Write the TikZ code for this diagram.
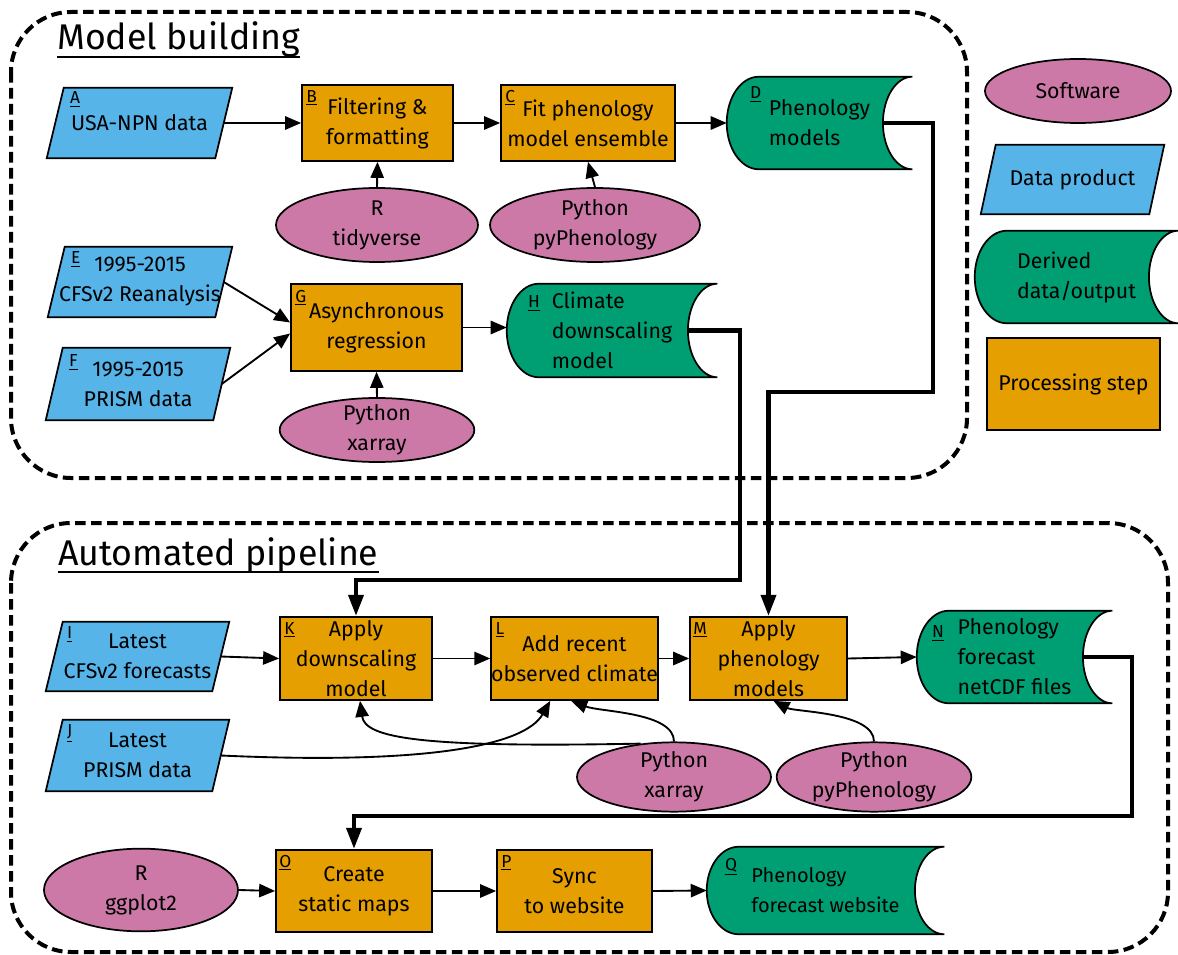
\documentclass[tikz,border=0pt]{standalone}
\usepackage{fontspec}
\setmainfont{Fira Sans}
\usetikzlibrary{shapes.geometric, arrows.meta, calc, backgrounds}
\definecolor{cblue}{HTML}{56B4E9}
\definecolor{corange}{HTML}{E69F00}
\definecolor{cgreen}{HTML}{009E73}
\definecolor{cpink}{HTML}{CC79A7}
\tikzset{
  base/.style={inner sep=0pt, align=center, font=\fontsize{16}{22.5}\selectfont},
  corners/.style n args={4}{at={({(#1+#3)/2},{(#2+#4)/2})}, minimum width={(#3-#1)*0.75pt}, minimum height={(#4-#2)*0.75pt}},
  proc/.style={base, draw, fill=corange, line width=1.3pt},
  soft/.style={base, ellipse, draw, fill=cpink, line width=1.3pt, inner ysep=-12pt},
  databox/.style={base},
  drvbox/.style={base, align=left},
  lbl/.style={inner sep=0pt, anchor=north west, font=\fontsize{13}{13}\selectfont},
  conn/.style={line width=1.4pt, -{Triangle[length=12pt,width=10pt]}},
  flow/.style={line width=3.5pt, -{Triangle[length=16pt,width=11pt]}},
  group/.style={line width=3pt, dash pattern=on 8pt off 4pt, rounded corners=45pt},
  paraf/.style={draw, fill=cblue, line width=1.3pt},
  drvf/.style={draw, fill=cgreen, line width=1.3pt},
  grouptitle/.style={inner sep=0pt, anchor=base west, font=\fontsize{26.8}{27}\selectfont},
}
\newcommand\paraShape[2]{%
  \draw[paraf] ($(#1.north west)+(#2,0)$) -- (#1.north east) -- ($(#1.south east)+(-#2,0)$) -- (#1.south west) -- cycle;}
\newcommand\drvShape[1]{%
  \draw[drvf] let \p1=(#1.north west), \p2=(#1.south east), \n1={(\y1-\y2)/2} in
   ({\x1+24pt},\y1) -- (\x2,\y1)
   .. controls ({\x2-12pt},\y1) and ({\x2-22pt},{\y1-0.448*\n1}) .. ({\x2-22pt},{\y1-\n1})
   .. controls ({\x2-22pt},{\y2+0.448*\n1}) and ({\x2-12pt},\y2) .. (\x2,\y2)
   -- ({\x1+24pt},\y2)
   .. controls ({\x1+10.75pt},\y2) and (\x1,{\y2+0.448*\n1}) .. (\x1,{\y2+\n1})
   .. controls (\x1,{\y1-0.448*\n1}) and ({\x1+10.75pt},\y1) .. ({\x1+24pt},\y1) -- cycle;}
\begin{document}
\begin{tikzpicture}[x=0.75pt, y=-0.75pt]
\useasboundingbox (0,0) rectangle (1178,955);

% group frames
\draw[group] (11,12) rectangle (967,478);
\draw[group] (11,523) rectangle (1168,952);
\node[grouptitle] (t1) at (57,50) {Model building};
\draw[line width=2.2pt] ($(t1.base west)+(0,7)$) -- ($(t1.base east)+(0,7)$);
\node[grouptitle] (t2) at (58,565) {Automated pipeline};
\draw[line width=2.2pt] ($(t2.base west)+(0,7)$) -- ($(t2.base east)+(0,7)$);

% Model building nodes
\node[databox, corners={47}{88}{232}{158}] (A) {USA-NPN data};
\node[proc, corners={302}{85}{453}{161}] (B) {Filtering \&\\formatting};
\node[proc, corners={501}{85}{675}{161}] (C) {Fit phenology\\model ensemble};
\node[drvbox, corners={727}{77}{912}{169}] (D) {Phenology\\models};
\node[soft, minimum width=151.5pt, minimum height=55.5pt] (tidy) at (377,225) {R\\tidyverse};
\node[soft, minimum width=157.5pt, minimum height=55.5pt] (pyA) at (595,225) {Python\\pyPhenology};
\node[databox, corners={48}{247}{232}{317}] (E) {1995-2015\\CFSv2 Reanalysis};
\node[databox, corners={46}{348}{230}{420}] (F) {1995-2015\\PRISM data};
\node[proc, corners={291}{284}{462}{371}] (G) {Asynchronous\\regression};
\node[drvbox, corners={507}{284}{717}{377}] (H) {Climate\\downscaling\\model};
\node[soft, minimum width=146pt, minimum height=48pt] (xrA) at (377,430) {Python\\xarray};

% Automated pipeline nodes
\node[databox, corners={46}{622}{229}{691}] (I) {Latest\\CFSv2 forecasts};
\node[databox, corners={46}{720}{229}{791}] (J) {Latest\\PRISM data};
\node[proc, corners={280}{617}{432}{700}] (K) {Apply\\downscaling\\model};
\node[proc, corners={497}{617}{652}{700}] (L) {Add recent\\observed climate};
\node[proc, corners={690}{617}{847}{700}] (M) {Apply\\phenology\\models};
\node[drvbox, corners={917}{611}{1112}{703}] (N) {Phenology\\forecast\\netCDF files};
\node[soft, minimum width=145.5pt, minimum height=52pt] (xrB) at (674,777) {Python\\xarray};
\node[soft, minimum width=146pt, minimum height=52pt] (pyB) at (874,777) {Python\\pyPhenology};
\node[soft, minimum width=145.5pt, minimum height=62pt] (gg) at (141,890) {R\\ggplot2};
\node[proc, corners={276}{850}{432}{932}] (O) {Create\\static maps};
\node[proc, corners={497}{850}{652}{932}] (P) {Sync\\to website};
\node[drvbox, corners={707}{847}{944}{934}, font=\fontsize{15}{22.5}\selectfont] (Q) {Phenology\\forecast website};

% legend
\node[soft, minimum width=139.5pt, minimum height=48pt] (lsw) at (1078,91) {Software};
\node[databox, corners={981}{145}{1164}{214}] (ldp) {Data product};
\node[drvbox, corners={975}{231}{1178}{323}] (ldd) {Derived\\data/output};
\node[proc, corners={987}{338}{1160}{430}] (lps) {Processing step};

% shapes behind text
\begin{scope}[on background layer]
  \paraShape{A}{17}
  \paraShape{E}{17}
  \paraShape{F}{17}
  \paraShape{I}{17}
  \paraShape{J}{17}
  \paraShape{ldp}{15}
  \drvShape{D}
  \drvShape{H}
  \drvShape{N}
  \drvShape{Q}
  \drvShape{ldd}
\end{scope}

% letter labels
\node[lbl] (lA) at ($(A.north west)+(23,4)$) {\underline{A}};
\node[lbl] (lB) at ($(B.north west)+(5,6)$) {\underline{B}};
\node[lbl] (lC) at ($(C.north west)+(5,6)$) {\underline{C}};
\node[lbl] (lD) at ($(D.north west)+(23,10)$) {\underline{D}};
\node[lbl] (lE) at ($(E.north west)+(23,5)$) {\underline{E}};
\node[lbl] (lF) at ($(F.north west)+(23,7)$) {\underline{F}};
\node[lbl] (lG) at ($(G.north west)+(5,7)$) {\underline{G}};
\node[lbl] (lH) at ($(H.north west)+(21,12)$) {\underline{H}};
\node[lbl] (lI) at ($(I.north west)+(21,5)$) {\underline{I}};
\node[lbl] (lJ) at ($(J.north west)+(21,5)$) {\underline{J}};
\node[lbl] (lK) at ($(K.north west)+(5,6)$) {\underline{K}};
\node[lbl] (lL) at ($(L.north west)+(5,6)$) {\underline{L}};
\node[lbl] (lM) at ($(M.north west)+(4,6)$) {\underline{M}};
\node[lbl] (lN) at ($(N.north west)+(15,15)$) {\underline{N}};
\node[lbl] (lO) at ($(O.north west)+(4,6)$) {\underline{O}};
\node[lbl] (lP) at ($(P.north west)+(5,6)$) {\underline{P}};
\node[lbl] (lQ) at ($(Q.north west)+(18,11)$) {\underline{Q}};

% connectors: model building
\draw[conn] ($(A.east)+(-8.5,0)$) -- (B.west);
\draw[conn] (B.east) -- (C.west);
\draw[conn] (C.east) -- (D.west);
\draw[conn] (tidy.north) -- (B.south);
\draw[conn] (pyA.north) -- (C.south);
\draw[conn] ($(E.east)+(-8.5,0)$) -- ($(G.west)+(0,-5)$);
\draw[conn] ($(F.east)+(-8.5,0)$) -- ($(G.west)+(0,6)$);
\draw[conn] (G.east) -- (G.east -| H.west);
\draw[conn] (xrA.north) -- (G.south);

% thick flows
\draw[flow] ($(D.east)+(-29,0)$) -| (933,392) -| (M.north);
\draw[flow] ($(H.east)+(-29,0)$) -| (740,580) -| (K.north);
\draw[flow] ($(N.east)+(-29,0)$) -| (1132,816) -| (O.north);

% connectors: pipeline
\draw[conn] ($(I.east)+(-8.5,0)$) -- (K.west);
\draw[conn] (K.east) -- (L.west);
\draw[conn] (L.east) -- (M.west);
\draw[conn] (M.east) -- (N.west);
\draw[conn] ($(J.east)+(-8.5,0)$) .. controls (430,765) and (525,745) .. ($(L.south west)+(60,0)$);
\draw[conn] (xrB.north) .. controls (674,712) and (600,712) .. ($(L.south west)+(81,0)$);
\draw[conn] (xrB.135) .. controls (420,748) and (365,738) .. ($(K.south)+(4,0)$);
\draw[conn] (pyB.north) .. controls (874,712) and (795,712) .. ($(M.south)+(5,0)$);
\draw[conn] (gg.east) -- (O.west);
\draw[conn] (O.east) -- (P.west);
\draw[conn] (P.east) -- (Q.west);
\end{tikzpicture}
\end{document}
